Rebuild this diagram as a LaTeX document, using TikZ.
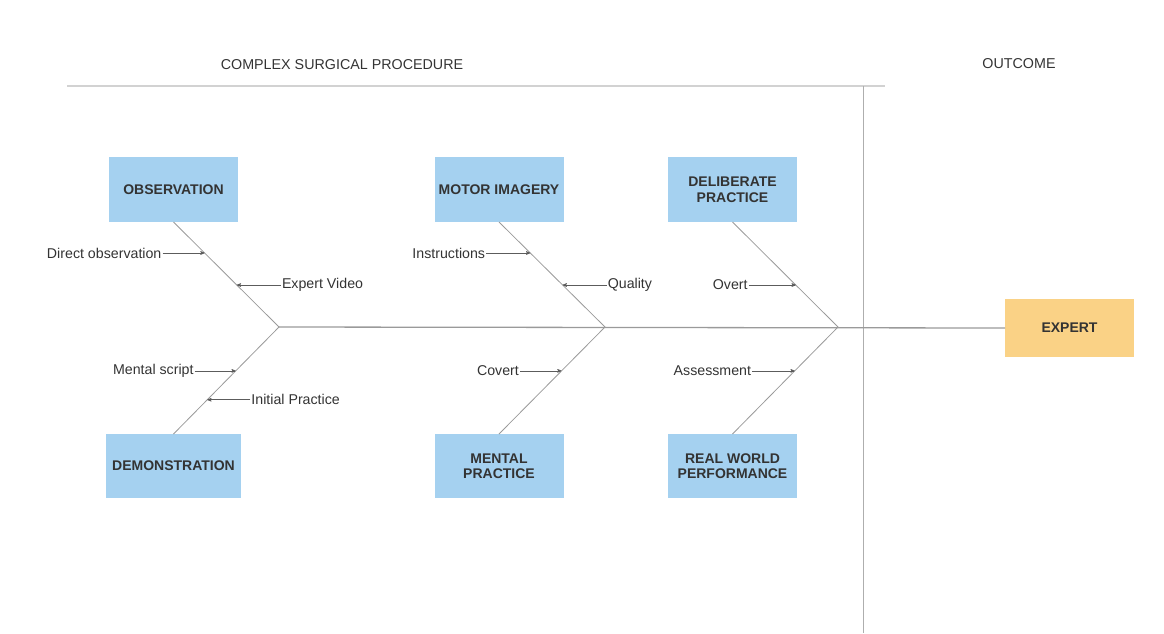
\documentclass[tikz,border=0pt]{standalone}
\usepackage{fontspec}
\setmainfont{Liberation Sans}
\usepackage{tikz}
\usetikzlibrary{arrows}
\usetikzlibrary{positioning}
\definecolor{causeblue}{HTML}{A5D1F0}
\definecolor{expertorange}{HTML}{FAD286}
\definecolor{inkgray}{HTML}{333333}
\definecolor{framegray}{HTML}{D2D2D2}
\definecolor{bonegray}{HTML}{9A9A9A}
\tikzset{
 cause/.style={fill=causeblue, minimum width=129pt, minimum height=65pt, inner sep=0pt, outer sep=0pt,
   align=center, text=inkgray, font=\bfseries\fontsize{14}{15.5}\selectfont},
 effect/.style={cause, fill=expertorange},
 head/.style={text=inkgray, font=\fontsize{14.3}{16}\selectfont},
 note/.style={text=inkgray, inner sep=1pt, font=\fontsize{14.2}{16}\selectfont},
 bone/.style={draw=bonegray, line width=0.8pt},
 spine/.style={draw=bonegray, line width=1.3pt},
 twig/.style={draw=inkgray!80, line width=0.6pt, ->, >=stealth'}
}

\begin{document}
\begin{tikzpicture}[x=1pt,y=-1pt]
\useasboundingbox (0,0) rectangle (1164,633);
% frame and headings
\draw[framegray, line width=1.6pt] (67,86) -- (885,86);
\draw[bonegray!80, line width=0.8pt] (863,86) -- (863,633);
\node[head] (proc) at (342,65) {COMPLEX SURGICAL PROCEDURE};
\node[head] (outc) at (1019,64) {OUTCOME};
% causes and effect
\node[cause] (obs) at (173.5,189.5) {OBSERVATION};
\node[cause] (mot) at (499,189.5) {MOTOR IMAGERY};
\node[cause] (del) at (732.5,189.5) {DELIBERATE\\PRACTICE};
\node[cause, minimum width=135pt, minimum height=64pt] (dem) at (173.5,466) {DEMONSTRATION};
\node[cause, minimum height=64pt] (men) at (499,466) {MENTAL\\PRACTICE};
\node[cause, minimum height=64pt] (rwp) at (732.5,466) {REAL WORLD\\PERFORMANCE};
\node[effect, minimum height=58pt] (exp) at (1069.5,328) {EXPERT};
% spine
\coordinate (j1) at (279,327);
\coordinate (j2) at (605,327);
\coordinate (j3) at (838,327);
\draw[spine] (j1) -- (exp.west);
% bones
\draw[bone] (obs.south) -- coordinate[pos=.295] (b1) coordinate[pos=.6] (b2) (j1)
  -- coordinate[pos=.41] (b3) coordinate[pos=.68] (b4) (dem.north);
\draw[bone] (mot.south) -- coordinate[pos=.295] (b5) coordinate[pos=.6] (b6) (j2)
  -- coordinate[pos=.41] (b8) (men.north);
\draw[bone] (del.south) -- coordinate[pos=.6] (b7) (j3)
  -- coordinate[pos=.41] (b9) (rwp.north);
% sub causes
\node[note, left=42pt of b1] (l1) {Direct observation};
\node[note, right=44pt of b2] (l2) {Expert Video};
\node[note, left=41pt of b3] (l3) {Mental script};
\node[note, right=43pt of b4] (l4) {Initial Practice};
\node[note, left=44pt of b5] (l5) {Instructions};
\node[note, right=44pt of b6] (l6) {Quality};
\node[note, left=47pt of b7] (l7) {Overt};
\node[note, left=41.5pt of b8] (l8) {Covert};
\node[note, left=42.5pt of b9] (l9) {Assessment};
\foreach \i in {1,...,9}
 \draw[twig] (l\i) -- (b\i);
\end{tikzpicture}
\end{document}
